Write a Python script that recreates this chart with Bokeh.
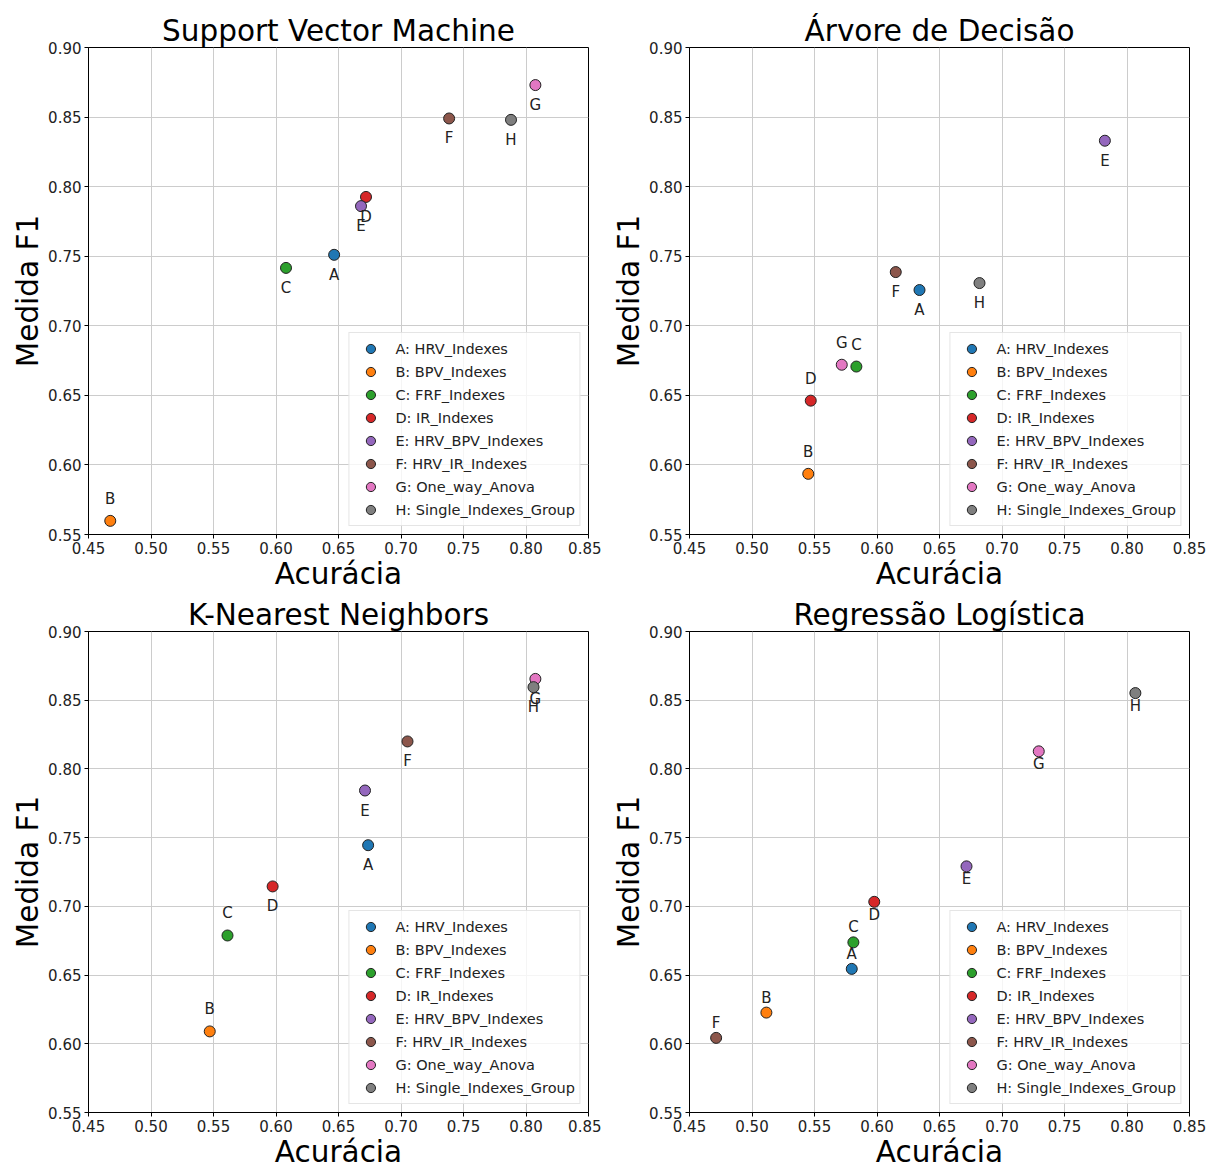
from bokeh.plotting import figure
from bokeh.models import Range1d, FixedTicker, NumeralTickFormatter, ColumnDataSource
from bokeh.layouts import column, row
from bokeh.core.properties import value
from bokeh.embed import file_html
from bokeh.resources import INLINE

letters = ["A", "B", "C", "D", "E", "F", "G", "H"]
names = ["HRV_Indexes", "BPV_Indexes", "FRF_Indexes", "IR_Indexes",
         "HRV_BPV_Indexes", "HRV_IR_Indexes", "One_way_Anova", "Single_Indexes_Group"]
colors = ["#1f77b4", "#ff7f0e", "#2ca02c", "#d62728",
          "#9467bd", "#8c564b", "#e377c2", "#7f7f7f"]

svm_acc = [0.6465, 0.4674, 0.608, 0.672, 0.668, 0.7385, 0.8075, 0.788]
svm_f1 = [0.751, 0.5598, 0.7416, 0.7926, 0.786, 0.849, 0.873, 0.848]
svm_side = ["below", "above", "below", "below", "below", "below", "below", "below"]

dt_acc = [0.634, 0.545, 0.5835, 0.547, 0.7823, 0.615, 0.5718, 0.682]
dt_f1 = [0.7257, 0.5936, 0.6707, 0.6462, 0.833, 0.7386, 0.672, 0.7307]
dt_side = ["below", "above", "above", "above", "below", "below", "above", "below"]

knn_acc = [0.6737, 0.547, 0.5612, 0.5973, 0.6712, 0.7052, 0.8075, 0.806]
knn_f1 = [0.7445, 0.609, 0.6788, 0.7145, 0.7843, 0.820, 0.8655, 0.8595]
knn_side = ["below", "above", "above", "below", "below", "below", "below", "below"]

lr_acc = [0.5798, 0.5115, 0.5811, 0.5978, 0.6716, 0.4713, 0.7294, 0.8067]
lr_f1 = [0.6545, 0.6227, 0.6738, 0.7033, 0.7291, 0.6043, 0.8128, 0.8552]
lr_side = ["above", "above", "above", "below", "below", "above", "below", "below"]

x_ticks = [0.45, 0.50, 0.55, 0.60, 0.65, 0.70, 0.75, 0.80, 0.85]
y_ticks = [0.55, 0.60, 0.65, 0.70, 0.75, 0.80, 0.85, 0.90]

FONT = "DejaVu Sans"


def make_plot(title, acc, f1, side, fh, top, right, off_below, off_above):
    p = figure(frame_width=500, frame_height=fh, output_backend="svg", toolbar_location=None,
               x_range=Range1d(0.45, 0.85), y_range=Range1d(0.55, 0.90),
               min_border_left=88, min_border_right=right, min_border_top=top,
               min_border_bottom=0)
    p.title.text = title
    p.title.text_font = FONT
    p.title.text_font_size = "29.5px"
    p.title.text_font_style = "normal"
    p.title.align = "center"
    p.title.standoff = 0
    p.title.text_color = "#000000"

    p.outline_line_color = "#000000"
    p.outline_line_width = 1
    for ax, ticks in ((p.xaxis, x_ticks), (p.yaxis, y_ticks)):
        ax.ticker = FixedTicker(ticks=ticks)
        ax.formatter = NumeralTickFormatter(format="0.00")
        ax.major_label_text_font = FONT
        ax.major_label_text_font_size = "15px"
        ax.major_label_text_color = "#222222"
        ax.axis_label_text_font = FONT
        ax.axis_label_text_font_size = "29.5px"
        ax.axis_label_text_font_style = "normal"
        ax.axis_label_text_color = "#000000"
        ax.major_tick_in = 0
        ax.major_tick_out = 4
        ax.minor_tick_line_color = None
        ax.axis_line_color = "#000000"
        ax.major_tick_line_color = "#000000"
        ax.axis_label_standoff = 0
        ax.major_label_standoff = 3
    p.xaxis.axis_label = "Acurácia"
    p.yaxis.axis_label = "Medida F1"

    p.xgrid.ticker = FixedTicker(ticks=x_ticks)
    p.ygrid.ticker = FixedTicker(ticks=y_ticks)
    p.grid.grid_line_color = "#cccccc"
    p.grid.grid_line_width = 1

    for i in range(len(letters)):
        p.scatter(x=[acc[i]], y=[f1[i]], size=11, fill_color=colors[i],
                  line_color="#222222", line_width=1,
                  legend_label=f"{letters[i]}: {names[i]}")

    offs = [off_below if s == "below" else -off_above for s in side]
    src = ColumnDataSource(dict(x=acc, y=f1, t=letters, dy=offs))
    p.text(x="x", y="y", text="t", source=src, y_offset="dy",
           text_align="center", text_baseline="middle",
           text_font=value(FONT), text_font_size="15px", text_color="#222222")

    lg = p.legend[0]
    lg.location = "bottom_right"
    lg.margin = 8
    lg.padding = 4
    lg.spacing = 0
    lg.glyph_width = 34
    lg.glyph_height = 23
    lg.label_height = 23
    lg.label_standoff = 8
    lg.label_text_font = FONT
    lg.label_text_font_size = "14.5px"
    lg.label_text_color = "#222222"
    lg.border_line_color = "#cccccc"
    lg.border_line_width = 1
    lg.background_fill_alpha = 0.8
    return p


p1 = make_plot("Support Vector Machine", svm_acc, svm_f1, svm_side, 487, 47, 13, 20, 22)
p2 = make_plot("Árvore de Decisão", dt_acc, dt_f1, dt_side, 487, 47, 17, 20, 22)
p3 = make_plot("K-Nearest Neighbors", knn_acc, knn_f1, knn_side, 481, 38, 13, 20, 22)
p4 = make_plot("Regressão Logística", lr_acc, lr_f1, lr_side, 481, 38, 17, 13, 15)

layout = column(row(p1, p2), row(p3, p4))
open("out.html", "w").write(file_html(layout, INLINE))
